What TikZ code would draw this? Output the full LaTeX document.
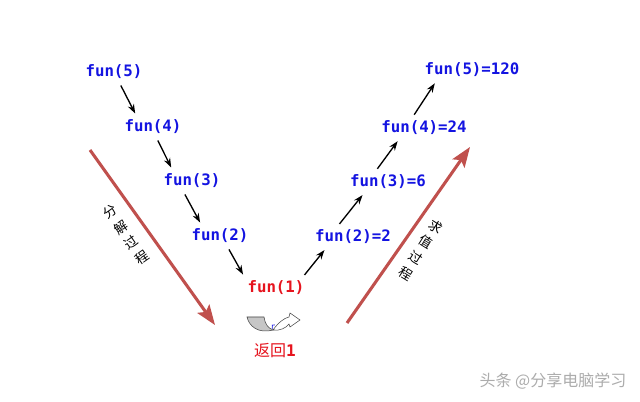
\documentclass[tikz,border=0pt]{standalone}
\usepackage{fontspec}
\newfontfamily\codefont{DejaVu Sans Mono}
\newfontfamily\cjk{Noto Sans CJK SC}
\usetikzlibrary{arrows.meta}

\definecolor{callblue}{RGB}{20,20,225}
\definecolor{retred}{RGB}{230,20,30}
\definecolor{flowred}{RGB}{192,80,77}

\tikzset{
  fn/.style={font=\codefont\bfseries\fontsize{11.8}{13}\selectfont,text=callblue,inner sep=2pt},
  callarrow/.style={-{Stealth[length=7pt,width=5pt]},line width=1pt,shorten <=3pt,shorten >=3pt},
  flow/.style={flowred,line width=2.3pt,-{Stealth[length=15pt,width=11pt,inset=3pt]}},
  sidetext/.style={font=\cjk\fontsize{10}{14}\selectfont,align=center,inner sep=0pt},
}

\begin{document}
\begin{tikzpicture}[x=0.75pt,y=-0.75pt]
    \useasboundingbox (0,0) rectangle (640,402);
    \fill[white] (0,0) rectangle (640,402);

    % calls going down
    \foreach \n/\x/\y/\lbl in {c5/114/72/{fun(5)},c4/153/127/{fun(4)},c3/192/181/{fun(3)},c2/220/236/{fun(2)}}
      \node[fn] (\n) at (\x,\y) {\lbl};
    \node[fn,text=retred] (c1) at (276,288) {fun(1)};

    % values going up
    \foreach \n/\x/\y/\lbl in {r2/353/237/{fun(2)=2},r3/388/182/{fun(3)=6},r4/424/128/{fun(4)=24},r5/472/70/{fun(5)=120}}
      \node[fn] (\n) at (\x,\y) {\lbl};

    \foreach \a/\sa/\b/\sb in {c5/3.75/c4/-12,c4/2.25/c3/-14.25,c3/-6.75/c2/-13.5,c2/5.25/c1/-23.25}
      \draw[callarrow] ([xshift=\sa pt]\a.south) -- ([xshift=\sb pt]\b.north);
    \foreach \a/\sa/\b/\sb in {c1/19.5/r2/-19.5,r2/-12/r3/-17.25,r3/-9.75/r4/-18,r4/-9/r5/-26.25}
      \draw[callarrow] ([xshift=\sa pt]\a.north) -- ([xshift=\sb pt]\b.south);

    % big arrows
    \coordinate (dtop) at (90,150);
    \coordinate (dbot) at (215,325);
    \coordinate (ubot) at (347,323);
    \coordinate (utop) at (470,147);
    \draw[flow] (dtop) -- (dbot);
    \draw[flow] (ubot) -- (utop);
    \node[sidetext,rotate=35] (split) at (126,235) {分\\解\\过\\程};
    \node[sidetext,rotate=-32] (back) at (421,250) {求\\值\\过\\程};

    % return sign
    \filldraw[fill=gray!45,draw=gray!55!black,line width=0.4pt]
      (247,317) -- (264,317) .. controls (265,324) and (268,328) .. (273,330)
      .. controls (258,334) and (249,326) .. cycle;
    \filldraw[fill=white,draw=gray!55!black,line width=0.4pt]
      (273,330) .. controls (280,331) and (286,328) .. (289,324) -- (290,327) -- (300,320)
      -- (290,313) -- (289,317) .. controls (284,318) and (278,323) .. (273,330) -- cycle;
    \node[font=\codefont\fontsize{6}{6}\selectfont,text=callblue,inner sep=0pt] (mark) at (273,327) {r};
    \node[font=\cjk\fontsize{12}{13}\selectfont,text=retred,inner sep=1pt] (ret) at (275,351) {返回\textbf{\codefont 1}};

    \node[font=\cjk\fontsize{12}{13}\selectfont,text=gray!65,inner sep=0pt] (mark2) at (553,381) {头条 @分享电脑学习};
\end{tikzpicture}
\end{document}
